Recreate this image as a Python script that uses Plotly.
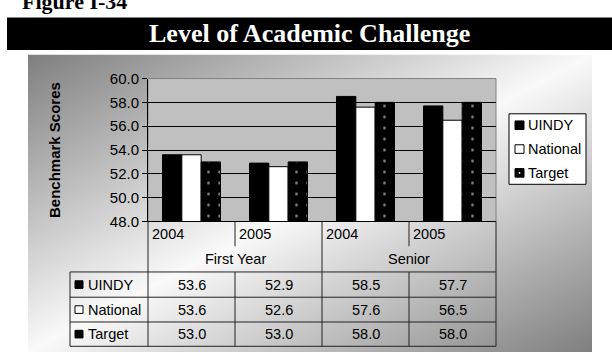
import base64
import struct
import zlib

import numpy as np
import plotly.graph_objects as go

# ---- data -------------------------------------------------------------
groups = ["First Year", "First Year", "Senior", "Senior"]
years = ["2004", "2005", "2004", "2005"]
series_names = ["UINDY", "National", "Target"]
uindy = [53.6, 52.9, 58.5, 57.7]
national = [53.6, 52.6, 57.6, 56.5]
target = [53.0, 53.0, 58.0, 58.0]
y_ticks = [48.0, 50.0, 52.0, 54.0, 56.0, 58.0, 60.0]

W, H = 612, 360
FONT = "Arial, Liberation Sans, sans-serif"
SERIF = "Times New Roman, Liberation Serif, serif"


def px(x):
    return x / W


def py(y):
    return 1 - y / H


# plot area in pixels
PL, PR, PT, PB = 148, 496, 73, 223
# table geometry
TL = 70
COLS = [148, 235, 322, 409, 496]
ROW_YEAR_B = 249
ROWS = [276, 302.5, 328.5, 354]


# ---- diagonal grey gradient backdrop (PNG built in memory) -------------
def gradient_png(w, h, light=250, dark=128):
    u = np.linspace(0, 1, w)[None, :]
    v = np.linspace(0, 1, h)[:, None]
    t = np.abs(u + v - 1.0)
    img = (light - t * (light - dark)).astype(np.uint8)
    raw = b"".join(b"\x00" + img[r].tobytes() for r in range(h))

    def chunk(tag, data):
        c = struct.pack(">I", len(data)) + tag + data
        return c + struct.pack(">I", zlib.crc32(tag + data) & 0xFFFFFFFF)

    png = b"\x89PNG\r\n\x1a\n"
    png += chunk(b"IHDR", struct.pack(">IIBBBBB", w, h, 8, 0, 0, 0, 0))
    png += chunk(b"IDAT", zlib.compress(raw, 9))
    png += chunk(b"IEND", b"")
    return "data:image/png;base64," + base64.b64encode(png).decode()


BG_X0, BG_Y0, BG_X1, BG_Y1 = 28, 48, 592, 360

# ---- bars ---------------------------------------------------------------
cats = [f"{g} {y}" for g, y in zip(groups, years)]

fig = go.Figure()
fig.add_bar(x=cats, y=uindy, name=series_names[0],
            marker=dict(color="black", line=dict(color="black", width=1)))
fig.add_bar(x=cats, y=national, name=series_names[1],
            marker=dict(color="white", line=dict(color="black", width=1)))
fig.add_bar(x=cats, y=target, name=series_names[2],
            marker=dict(color="black", line=dict(color="black", width=1),
                        pattern=dict(shape=".", fgcolor="white", bgcolor="black",
                                     size=11, solidity=0.05)))

shapes = []
annotations = []

# title bar
shapes.append(dict(type="rect", xref="paper", yref="paper",
                   x0=px(7), x1=px(612), y0=py(43), y1=py(9),
                   fillcolor="black", line=dict(width=0), layer="below"))
annotations.append(dict(text="<b>Level of Academic Challenge</b>", xref="paper", yref="paper",
                        x=px(309), y=py(26), xanchor="center", yanchor="middle",
                        showarrow=False, font=dict(family=SERIF, size=26, color="white")))
annotations.append(dict(text="<b>Figure I-34</b>", xref="paper", yref="paper",
                        x=px(20), y=py(7), xanchor="left", yanchor="bottom",
                        showarrow=False, font=dict(family=SERIF, size=22, color="black")))

# plot area fill and grey frame
shapes.append(dict(type="rect", xref="paper", yref="paper",
                   x0=px(PL), x1=px(PR), y0=py(PB), y1=py(PT),
                   fillcolor="#c0c0c0", line=dict(color="#808080", width=1), layer="below"))

# axis title
annotations.append(dict(text="<b>Benchmark Scores</b>", xref="paper", yref="paper",
                        x=px(54), y=py(148), xanchor="center", yanchor="middle",
                        textangle=-90, showarrow=False,
                        font=dict(family=FONT, size=15, color="black")))

# ---- legend box -------------------------------------------------------------
LX0, LX1, LY0, LY1 = 509, 586, 110, 184
shapes.append(dict(type="rect", xref="paper", yref="paper",
                   x0=px(LX0), x1=px(LX1), y0=py(LY1), y1=py(LY0),
                   fillcolor="white", line=dict(color="black", width=1)))
legend_y = [122, 147, 172]
legend_fill = ["black", "white", "black"]
for name, ly, fill in zip(series_names, legend_y, legend_fill):
    shapes.append(dict(type="rect", xref="paper", yref="paper",
                       x0=px(515), x1=px(524), y0=py(ly + 4.5), y1=py(ly - 4.5),
                       fillcolor=fill, line=dict(color="black", width=1)))
    annotations.append(dict(text=name, xref="paper", yref="paper",
                            x=px(526), y=py(ly), xanchor="left", yanchor="middle",
                            showarrow=False, font=dict(family=FONT, size=14.5, color="black")))
# dot inside the Target swatch
shapes.append(dict(type="circle", xref="paper", yref="paper",
                   x0=px(518.6), x1=px(520.4), y0=py(173), y1=py(171),
                   fillcolor="white", line=dict(width=0)))

# ---- data table under the axis --------------------------------------------
LINE = dict(color="#222222", width=1)


def hline(x0, x1, y):
    shapes.append(dict(type="line", xref="paper", yref="paper",
                       x0=px(x0), x1=px(x1), y0=py(y), y1=py(y), line=LINE))


def vline(x, y0, y1):
    shapes.append(dict(type="line", xref="paper", yref="paper",
                       x0=px(x), x1=px(x), y0=py(y0), y1=py(y1), line=LINE))


# category header lines
for x in (COLS[0], COLS[2], COLS[4]):
    vline(x, PB, ROWS[-1])
for x in (COLS[1], COLS[3]):
    vline(x, PB, ROW_YEAR_B)
    vline(x, ROWS[0], ROWS[-1])
for y in ROWS:
    hline(TL, COLS[-1], y)
vline(TL, ROWS[0], ROWS[-1])

# year labels
for i, yr in enumerate(years):
    annotations.append(dict(text=yr, xref="paper", yref="paper",
                            x=px(COLS[i] + 2), y=py(236), xanchor="left", yanchor="middle",
                            showarrow=False, font=dict(family=FONT, size=14.5, color="black")))
# group labels
for gi, g in enumerate(dict.fromkeys(groups)):
    cx = (COLS[2 * gi] + COLS[2 * gi + 2]) / 2
    annotations.append(dict(text=g, xref="paper", yref="paper",
                            x=px(cx), y=py(262), xanchor="center", yanchor="middle",
                            showarrow=False, font=dict(family=FONT, size=14.5, color="black")))

# series rows
table_rows = [uindy, national, target]
row_fill = ["black", "white", "black"]
for r, (name, vals, fill) in enumerate(zip(series_names, table_rows, row_fill)):
    cy = (ROWS[r] + ROWS[r + 1]) / 2
    shapes.append(dict(type="rect", xref="paper", yref="paper",
                       x0=px(75), x1=px(83), y0=py(cy + 4), y1=py(cy - 4),
                       fillcolor=fill, line=dict(color="black", width=1)))
    annotations.append(dict(text=name, xref="paper", yref="paper",
                            x=px(86), y=py(cy), xanchor="left", yanchor="middle",
                            showarrow=False, font=dict(family=FONT, size=14.5, color="black")))
    for c, v in enumerate(vals):
        cx = (COLS[c] + COLS[c + 1]) / 2
        annotations.append(dict(text=f"{v:.1f}", xref="paper", yref="paper",
                                x=px(cx), y=py(cy), xanchor="center", yanchor="middle",
                                showarrow=False, font=dict(family=FONT, size=14.5, color="black")))

fig.update_layout(
    width=W, height=H,
    margin=dict(l=0, r=0, t=0, b=0),
    paper_bgcolor="white",
    plot_bgcolor="rgba(0,0,0,0)",
    barmode="group",
    bargap=0.333,
    bargroupgap=0,
    showlegend=False,
    shapes=shapes,
    annotations=annotations,
    images=[dict(source=gradient_png(BG_X1 - BG_X0, BG_Y1 - BG_Y0),
                 xref="paper", yref="paper",
                 x=px(BG_X0), y=py(BG_Y0),
                 sizex=(BG_X1 - BG_X0) / W, sizey=(BG_Y1 - BG_Y0) / H,
                 xanchor="left", yanchor="top", sizing="stretch", layer="below")],
    xaxis=dict(domain=[px(PL), px(PR)], type="category", categoryorder="array",
               categoryarray=cats, showticklabels=False, ticks="",
               showline=True, linecolor="black", linewidth=1, showgrid=False,
               zeroline=False, fixedrange=True),
    yaxis=dict(domain=[py(PB), py(PT)], range=[48, 60], tickvals=y_ticks,
               ticktext=[f"{t:.1f}" for t in y_ticks],
               ticks="outside", ticklen=5, tickcolor="black", tickwidth=1,
               showline=True, linecolor="black", linewidth=1,
               showgrid=True, gridcolor="black", gridwidth=1, zeroline=False,
               tickfont=dict(family=FONT, size=15, color="black"), fixedrange=True),
)

fig.write_html("out.html")
